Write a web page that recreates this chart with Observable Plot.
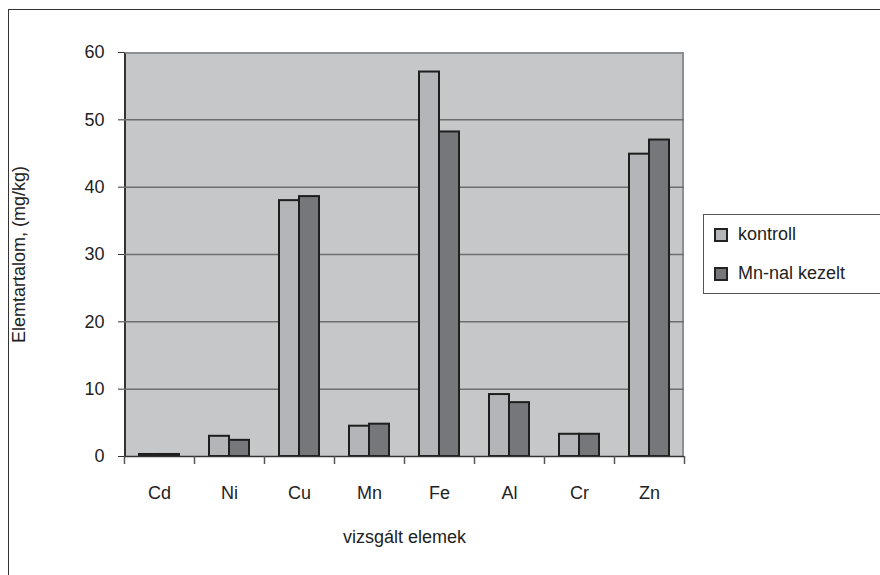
<!DOCTYPE html>
<html>
<head>
<meta charset="utf-8">
<script src="https://cdn.jsdelivr.net/npm/d3@7"></script>
<script src="https://cdn.jsdelivr.net/npm/@observablehq/plot@0.6"></script>
<style>
  html, body { margin: 0; padding: 0; background: #fff; }
  #wrap { position: relative; width: 880px; height: 575px; overflow: hidden; font-family: "Liberation Sans", Arial, sans-serif; }
  #border { position: absolute; left: 8px; top: 9px; width: 900px; height: 600px; border: 1.5px solid #333; box-sizing: border-box; }
  #bg { position: absolute; background: #c6c7c9; box-sizing: border-box; border-top: 2px solid #8e8f91; border-right: 2px solid #8e8f91; border-left: 2px solid #333; }
  #legend { position: absolute; left: 703px; top: 214px; width: 200px; height: 80px; border: 1.5px solid #555; box-sizing: border-box; background: #fff; }
  .item { position: absolute; left: 10px; display: flex; align-items: center; font-size: 18px; color: #222; white-space: nowrap; }
  .sw { width: 10px; height: 10px; border: 2px solid #222; margin-right: 10px; }
  svg { position: absolute; left: 0; top: 0; }
</style>
</head>
<body>
<div id="wrap"><div id="border"></div><div id="bg"></div></div>
<script>
const categories = ["Cd", "Ni", "Cu", "Mn", "Fe", "Al", "Cr", "Zn"];
const series = ["kontroll", "Mn-nal kezelt"];
const kontroll = [0.3, 3.0, 38.0, 4.5, 57.1, 9.2, 3.3, 44.9];
const mnKezelt = [0.3, 2.4, 38.6, 4.8, 48.2, 8.0, 3.3, 47.0];
const yTicks = [0, 10, 20, 30, 40, 50, 60];
const colors = ["#b4b5b8", "#76777b"];

const rowsK = categories.map((c, i) => ({cat: c, series: series[0], value: kontroll[i]}));
const rowsM = categories.map((c, i) => ({cat: c, series: series[1], value: mnKezelt[i]}));

const W = 880, H = 575;
const mTop = 52, mBottom = 119, mLeft = 124, mRight = 196;
const plotW = W - mLeft - mRight, plotH = H - mTop - mBottom;
const band = plotW / categories.length;
const halfBand = band / 2;
const barW = 20;
const outer = (band - 2 * barW) / 2;

const bg = document.getElementById("bg");
bg.style.left = mLeft + "px"; bg.style.top = mTop + "px";
bg.style.width = plotW + "px"; bg.style.height = plotH + "px";

const barStyle = {x: "cat", y: "value", fill: "series", stroke: "#1e1e1e", strokeWidth: 2};

const chart = Plot.plot({
  width: W,
  height: H,
  marginTop: mTop,
  marginBottom: mBottom,
  marginLeft: mLeft,
  marginRight: mRight,
  style: {fontFamily: "Liberation Sans, Arial, sans-serif", fontSize: "18px", color: "#222", background: "transparent"},
  x: {domain: categories, padding: 0, axis: null},
  y: {domain: [0, 60], axis: null},
  color: {domain: series, range: colors},
  marks: [
    Plot.gridY(yTicks.filter(d => d > 0 && d < 60), {stroke: "#6e6e6e", strokeOpacity: 1, strokeWidth: 1.5}),
    Plot.barY(rowsK, {...barStyle, insetLeft: outer, insetRight: outer + barW}),
    Plot.barY(rowsM, {...barStyle, insetLeft: outer + barW, insetRight: outer}),
    Plot.ruleY([0], {stroke: "#333", strokeWidth: 1.5}),
    Plot.axisX({tickSize: 8, dx: -halfBand, tickFormat: () => "", label: null, stroke: "#555", strokeWidth: 1.5}),
    Plot.axisX(categories.slice(-1), {tickSize: 8, dx: halfBand, tickFormat: () => "", label: null, stroke: "#555", strokeWidth: 1.5}),
    Plot.axisY({ticks: yTicks, tickSize: 6, tickPadding: 14, fontSize: 18, stroke: "#333",
      label: "Elemtartalom, (mg/kg)", labelArrow: "none", labelAnchor: "center", labelOffset: 112}),
    Plot.axisX({tickSize: 0, tickPadding: 30, fontSize: 18,
      label: "vizsgált elemek", labelArrow: "none", labelAnchor: "center", labelOffset: 86})
  ]
});

const wrap = document.getElementById("wrap");
wrap.appendChild(chart);

const legend = document.createElement("div");
legend.id = "legend";
series.forEach((s, i) => {
  const it = document.createElement("div");
  it.className = "item";
  it.style.top = (i === 0 ? 9 : 48) + "px";
  const sw = document.createElement("div");
  sw.className = "sw";
  sw.style.background = colors[i];
  const t = document.createElement("span");
  t.textContent = s;
  it.appendChild(sw);
  it.appendChild(t);
  legend.appendChild(it);
});
wrap.appendChild(legend);
</script>
</body>
</html>
